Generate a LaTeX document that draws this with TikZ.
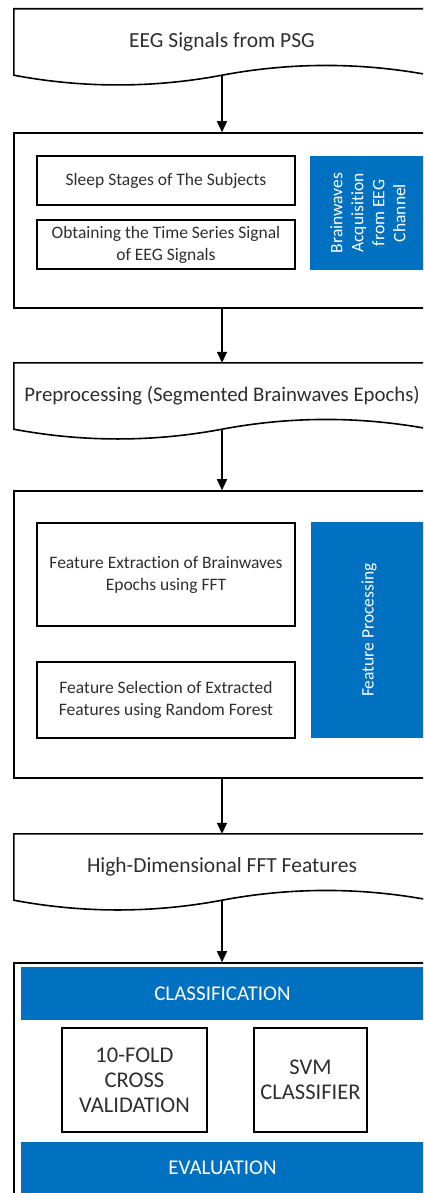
\documentclass[tikz,border=0pt]{standalone}
\usepackage{fontspec}
\setmainfont{Carlito}[Ligatures=NoCommon]
\usetikzlibrary{arrows.meta}

\definecolor{blockblue}{HTML}{0070C0}
\definecolor{txtgray}{HTML}{2E2E2E}

\tikzset{
    border/.style={line width=1.6pt, draw=black},
    flow/.style={line width=1.6pt, -{Triangle[length=11pt,width=10pt]}},
    docbox/.style={minimum width=416pt, minimum height=66pt, inner sep=0pt,
        text=txtgray, font=\fontsize{21.5}{26}\selectfont},
    groupbox/.style={border, rectangle, minimum width=416pt, inner sep=0pt},
    stepbox/.style={border, rectangle, minimum width=258pt, inner sep=0pt,
        align=center, text=txtgray, font=\fontsize{17.5}{22}\selectfont},
    bluebox/.style={fill=blockblue, rotate=90, minimum height=116pt, inner sep=0pt,
        align=center, text=white, font=\fontsize{17.5}{21}\selectfont},
    band/.style={fill=blockblue, minimum width=403pt, minimum height=53pt, inner sep=0pt,
        text=white, font=\fontsize{21}{25}\selectfont},
    capsbox/.style={border, rectangle, minimum height=104pt, inner sep=0pt,
        align=center, text=txtgray, font=\fontsize{22.5}{25}\selectfont},
}

% outline of a document symbol round a named node
\newcommand\docoutline[1]{%
    \draw[border, line join=miter]
        (#1.south west) -- (#1.north west) -- (#1.north east) -- (#1.south east)
        .. controls +(-69,-13) and +(69,-13) .. (#1.south)
        .. controls +(-69,13) and +(69,13) .. (#1.south west) -- cycle;}

\begin{document}
\begin{tikzpicture}[x=1pt,y=-1pt]
    \useasboundingbox (0,0) rectangle (423,1193);
    \clip (0,0) rectangle (423,1193);

    % Input signals
    \node[docbox] (src) at (222,42) {EEG Signals from PSG};
    \docoutline{src}

    % Acquisition block
    \node[groupbox, minimum height=175pt] (acq) at (222,220.5) {};
    \node[stepbox, minimum height=49pt] (stage) at (166,180.5) {Sleep Stages of The Subjects};
    \node[stepbox, minimum height=49pt] (series) at (166,244.5)
        {Obtaining the Time Series Signal\\of EEG Signals};
    \node[bluebox, minimum width=114pt] (acqlabel) at (368,213)
        {Brainwaves\\Acquisition\\from EEG\\Channel};

    % Preprocessing
    \node[docbox, font=\fontsize{20.8}{26}\selectfont] (pre) at (222,396)
        {Preprocessing (Segmented Brainwaves Epochs)};
    \docoutline{pre}

    % Feature block
    \node[groupbox, minimum height=287pt] (feat) at (222,634.5) {};
    \node[stepbox, minimum height=103pt] (extract) at (166,574.5)
        {Feature Extraction of Brainwaves\\Epochs using FFT};
    \node[stepbox, minimum height=76pt] (select) at (166,700)
        {Feature Selection of Extracted\\Features using Random Forest};
    \node[bluebox, minimum width=216pt] (featlabel) at (369,630) {Feature Processing};

    % FFT features
    \node[docbox] (fft) at (222,867) {High-Dimensional FFT Features};
    \docoutline{fft}

    % Classification block
    \node[groupbox, minimum height=252pt] (clf) at (222,1089) {};
    \node[band] (clfband) at (222.5,993.5) {CLASSIFICATION};
    \node[capsbox, minimum width=145pt] (kfold) at (134.5,1080)
        {10-FOLD\\CROSS\\VALIDATION};
    \node[capsbox, minimum width=113pt] (svm) at (310.5,1080)
        {SVM\\CLASSIFIER};
    \node[band, minimum height=60pt] (evalband) at (222.5,1172) {};
    \node[text=white, font=\fontsize{21}{25}\selectfont] (evaltext) at (222.5,1168) {EVALUATION};

    % connectors
    \draw[flow] (src.south) -- (acq.north);
    \draw[flow] (acq.south) -- (pre.north);
    \draw[flow] (pre.south) -- (feat.north);
    \draw[flow] (feat.south) -- (fft.north);
    \draw[flow] (fft.south) -- (clf.north);
\end{tikzpicture}
\end{document}
